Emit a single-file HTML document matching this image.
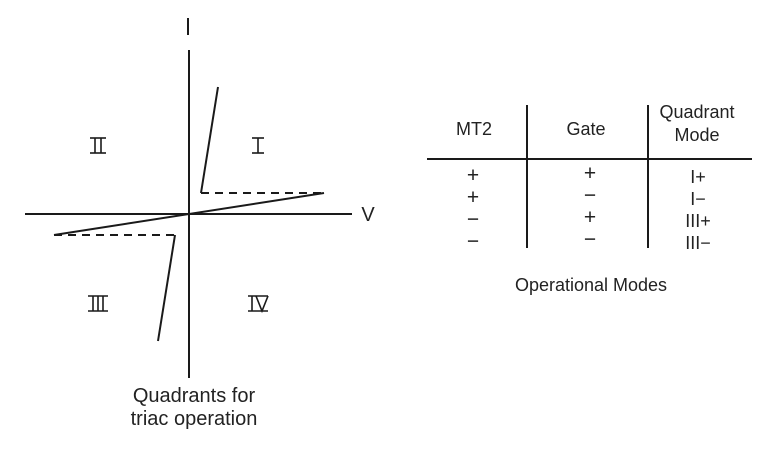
<!DOCTYPE html>
<html><head><meta charset="utf-8"><style>
html,body{margin:0;padding:0;background:#fff;}
svg{display:block;}
text{font-family:"Liberation Sans",sans-serif;fill:#222;}
</style></head><body>
<svg width="773" height="449" viewBox="0 0 773 449" xmlns="http://www.w3.org/2000/svg">
<g stroke="#1a1a1a" stroke-width="2" fill="none">
<line x1="189" y1="50" x2="189" y2="378"/>
<line x1="25" y1="214" x2="352" y2="214"/>
<line x1="54" y1="235" x2="324" y2="193"/>
<line x1="201" y1="193" x2="218" y2="87"/>
<line x1="175" y1="235" x2="158" y2="341"/>
<line x1="201" y1="193" x2="324" y2="193" stroke-dasharray="8,6"/>
<line x1="54" y1="235" x2="175" y2="235" stroke-dasharray="8,6"/>
<line x1="188" y1="18" x2="188" y2="35" stroke-width="2"/>
<line x1="527" y1="105" x2="527" y2="248"/>
<line x1="648" y1="105" x2="648" y2="248"/>
<line x1="427" y1="159" x2="752" y2="159"/>
</g>
<g stroke="#1a1a1a" stroke-width="1.6">
<line x1="90" y1="138" x2="106" y2="138"/><line x1="90" y1="153" x2="106" y2="153"/>
<line x1="95" y1="138" x2="95" y2="153"/><line x1="101" y1="138" x2="101" y2="153"/>
<line x1="252" y1="138" x2="264" y2="138"/><line x1="252" y1="153" x2="264" y2="153"/>
<line x1="258" y1="138" x2="258" y2="153"/>
<line x1="88" y1="296" x2="108" y2="296"/><line x1="88" y1="311" x2="108" y2="311"/>
<line x1="93" y1="296" x2="93" y2="311"/><line x1="98" y1="296" x2="98" y2="311"/><line x1="103" y1="296" x2="103" y2="311"/>
<line x1="248" y1="296" x2="268" y2="296"/><line x1="248" y1="311" x2="268" y2="311"/>
<line x1="252" y1="296" x2="252" y2="311"/>
<polyline points="256,296 262,311 268,296" fill="none"/>
</g>
<text x="368" y="221" font-size="20" text-anchor="middle">V</text>
<text x="194" y="402" font-size="20" text-anchor="middle">Quadrants for</text>
<text x="194" y="425" font-size="20" text-anchor="middle">triac operation</text>
<g font-size="18" text-anchor="middle">
<text x="474" y="135">MT2</text>
<text x="586" y="135">Gate</text>
<text x="697" y="118">Quadrant</text>
<text x="697" y="141">Mode</text>
<text x="698" y="183">I+</text><text x="698" y="205">I−</text><text x="698" y="227">III+</text><text x="698" y="249">III−</text>
<text x="591" y="291">Operational Modes</text>
</g>
<g font-size="21" text-anchor="middle">
<text x="473" y="182">+</text><text x="473" y="204">+</text><text x="473" y="226">−</text><text x="473" y="248">−</text>
<text x="590" y="180">+</text><text x="590" y="202">−</text><text x="590" y="224">+</text><text x="590" y="246">−</text>
</g>
</svg>
</body></html>
